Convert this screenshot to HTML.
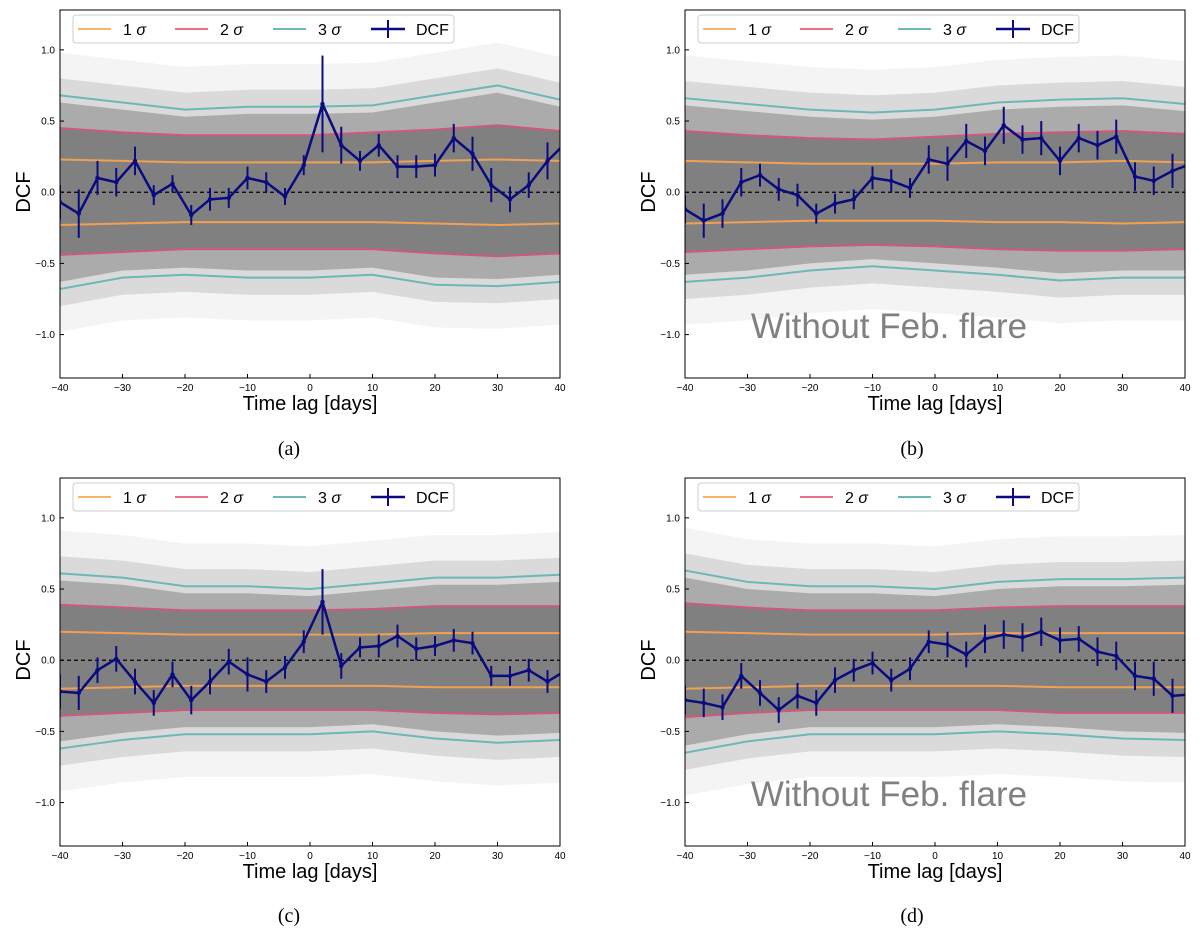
<!DOCTYPE html>
<html><head><meta charset="utf-8">
<style>
body{margin:0;background:#fff;width:1200px;height:935px;overflow:hidden;font-family:"Liberation Sans",sans-serif}
svg{position:absolute;left:0;top:0}
.cap{position:absolute;font-family:"Liberation Serif",serif;font-size:20px;transform:translateX(-50%)}
</style></head><body>
<svg id="fig" width="1200" height="935"></svg>
<div class="cap" style="left:289px;top:438px">(a)</div>
<div class="cap" style="left:912px;top:438px">(b)</div>
<div class="cap" style="left:289px;top:905px">(c)</div>
<div class="cap" style="left:912px;top:905px">(d)</div>
<script>
const lags=[-40,-37,-34,-31,-28,-25,-22,-19,-16,-13,-10,-7,-4,-1,2,5,8,11,14,17,20,23,26,29,32,35,38,41];
const dcfA=[-0.07,-0.15,0.10,0.07,0.22,-0.02,0.06,-0.16,-0.05,-0.04,0.10,0.07,-0.03,0.19,0.62,0.33,0.22,0.33,0.18,0.18,0.19,0.38,0.27,0.05,-0.05,0.05,0.22,0.35];
const errA=[0.12,0.17,0.12,0.10,0.10,0.07,0.06,0.07,0.08,0.07,0.08,0.07,0.06,0.07,0.34,0.13,0.07,0.08,0.08,0.08,0.08,0.10,0.12,0.12,0.09,0.09,0.13,0.13];
const dcfB=[-0.12,-0.20,-0.15,0.07,0.12,0.02,-0.02,-0.15,-0.08,-0.05,0.10,0.08,0.03,0.23,0.20,0.36,0.29,0.47,0.37,0.38,0.22,0.38,0.33,0.39,0.11,0.08,0.15,0.20];
const errB=[0.10,0.12,0.10,0.10,0.08,0.08,0.08,0.07,0.07,0.07,0.08,0.08,0.07,0.10,0.12,0.12,0.10,0.13,0.10,0.12,0.10,0.10,0.10,0.12,0.10,0.10,0.12,0.12];
const dcfC=[-0.22,-0.23,-0.07,0.01,-0.15,-0.30,-0.10,-0.28,-0.15,-0.01,-0.10,-0.15,-0.05,0.13,0.41,-0.04,0.09,0.10,0.17,0.08,0.10,0.14,0.12,-0.11,-0.11,-0.07,-0.15,-0.07];
const errC=[0.12,0.12,0.09,0.09,0.09,0.09,0.09,0.10,0.09,0.09,0.12,0.08,0.08,0.08,0.23,0.09,0.07,0.08,0.08,0.08,0.07,0.08,0.08,0.07,0.07,0.08,0.08,0.08];
const dcfD=[-0.28,-0.30,-0.33,-0.11,-0.23,-0.35,-0.25,-0.30,-0.14,-0.07,-0.02,-0.14,-0.06,0.13,0.11,0.04,0.15,0.18,0.16,0.20,0.14,0.15,0.06,0.03,-0.11,-0.13,-0.25,-0.24];
const errD=[0.10,0.10,0.09,0.09,0.09,0.09,0.09,0.09,0.09,0.08,0.08,0.08,0.08,0.08,0.09,0.09,0.10,0.10,0.10,0.10,0.09,0.09,0.10,0.10,0.10,0.12,0.12,0.12];
const sigLags=[-40,-30,-20,-10,0,10,20,30,40];
const s1A=[0.23,0.22,0.21,0.21,0.21,0.21,0.22,0.23,0.22], s2A=[0.45,0.42,0.40,0.40,0.40,0.42,0.44,0.47,0.43], s3A=[0.68,0.63,0.58,0.60,0.60,0.61,0.68,0.75,0.65];
const n1A=[-0.23,-0.22,-0.21,-0.21,-0.21,-0.21,-0.22,-0.23,-0.22], n2A=[-0.44,-0.42,-0.40,-0.40,-0.40,-0.40,-0.43,-0.45,-0.43], n3A=[-0.68,-0.60,-0.58,-0.60,-0.60,-0.58,-0.65,-0.66,-0.63];
const s1B=[0.22,0.21,0.20,0.20,0.20,0.21,0.21,0.22,0.21], s2B=[0.43,0.40,0.38,0.37,0.39,0.41,0.42,0.43,0.41], s3B=[0.66,0.62,0.58,0.56,0.58,0.63,0.65,0.66,0.62];
const n1B=[-0.22,-0.21,-0.20,-0.20,-0.20,-0.21,-0.21,-0.22,-0.21], n2B=[-0.42,-0.40,-0.38,-0.37,-0.38,-0.40,-0.41,-0.41,-0.40], n3B=[-0.63,-0.60,-0.55,-0.52,-0.55,-0.58,-0.62,-0.60,-0.60];
const s1C=[0.20,0.19,0.18,0.18,0.18,0.18,0.19,0.19,0.19], s2C=[0.39,0.37,0.35,0.35,0.35,0.36,0.38,0.38,0.38], s3C=[0.61,0.58,0.52,0.52,0.50,0.54,0.58,0.58,0.60];
const n1C=[-0.20,-0.19,-0.18,-0.18,-0.18,-0.18,-0.19,-0.19,-0.19], n2C=[-0.39,-0.37,-0.35,-0.35,-0.35,-0.35,-0.37,-0.38,-0.37], n3C=[-0.62,-0.56,-0.52,-0.52,-0.52,-0.50,-0.55,-0.58,-0.56];
const s1D=[0.20,0.19,0.18,0.18,0.18,0.19,0.19,0.19,0.19], s2D=[0.40,0.37,0.35,0.35,0.35,0.37,0.38,0.38,0.38], s3D=[0.63,0.55,0.52,0.52,0.50,0.55,0.57,0.57,0.58];
const n1D=[-0.20,-0.19,-0.18,-0.18,-0.18,-0.18,-0.19,-0.19,-0.19], n2D=[-0.40,-0.37,-0.35,-0.35,-0.35,-0.35,-0.37,-0.37,-0.37], n3D=[-0.65,-0.57,-0.52,-0.52,-0.52,-0.50,-0.52,-0.55,-0.56];
const xTicks=[-40,-30,-20,-10,0,10,20,30,40];
const yTicks=[-1.0,-0.5,0.0,0.5,1.0];
const yTickLabels=["\u22121.0","\u22120.5","0.0","0.5","1.0"];

const NS="http://www.w3.org/2000/svg";
const svg=document.getElementById('fig');
function mk(tag,attrs,parent,txt){const e=document.createElementNS(NS,tag);for(const k in attrs)e.setAttribute(k,attrs[k]);if(txt!==undefined)e.textContent=txt;(parent||svg).appendChild(e);return e;}

function panel(id,L,T,d,e,s1,s2,s3,n1,n2,n3,note){
  const W=500,H=368;
  const X=v=>L+(v+40)/80*W;
  const Y=v=>T+(1.28-v)/(1.28+1.305)*H;
  const g=mk('g',{});
  
  
  const cp=mk('clipPath',{id:'cp'+id},g);mk('rect',{x:L,y:T,width:W,height:H},cp);
  const gc=mk('g',{'clip-path':'url(#cp'+id+')'},g);
  const band=(up,lo,f,name)=>{let p='';sigLags.forEach((l,i)=>p+=(i?'L':'M')+X(l)+','+Y(up[i]));for(let i=sigLags.length-1;i>=0;i--)p+='L'+X(sigLags[i])+','+Y(lo[i]);const b=mk('path',{d:p+'Z',fill:f},gc);};
  band(s3.map(v=>v+0.3),n3.map(v=>v-0.3),'#f4f4f4','simulation-band-outer');
  band(s3.map(v=>v+0.12),n3.map(v=>v-0.12),'#dadada','simulation-band-mid');
  band(s3.map(v=>v-0.05),n3.map(v=>v+0.05),'#ababab','simulation-band-inner');
  band(s2.map(v=>v-0.0),n2.map(v=>v+0.0),'#808080','simulation-band-core');
  const line=(arr,col,name)=>{const p=mk('polyline',{points:sigLags.map((l,i)=>X(l)+','+Y(arr[i])).join(' '),fill:'none',stroke:col,'stroke-width':2},gc);};
  line(s1,'#f0a050','sigma1-upper');line(n1,'#f0a050','sigma1-lower');
  line(s2,'#d0587a','sigma2-upper');line(n2,'#d0587a','sigma2-lower');
  line(s3,'#6cb8b4','sigma3-upper');line(n3,'#6cb8b4','sigma3-lower');
  const z=mk('line',{x1:L,x2:L+W,y1:Y(0),y2:Y(0),stroke:'#000','stroke-dasharray':'4,3','stroke-width':1.2},gc);
  
  lags.forEach((l,i)=>{const eb=mk('line',{x1:X(l),x2:X(l),y1:Y(d[i]-e[i]),y2:Y(d[i]+e[i]),stroke:'#0b0b80','stroke-width':2},gc);});
  const dl=mk('polyline',{points:lags.map((l,i)=>X(l)+','+Y(d[i])).join(' '),fill:'none',stroke:'#0b0b80','stroke-width':2.5},gc);
  
  lags.forEach((l,i)=>{const c=mk('circle',{cx:X(l),cy:Y(d[i]),r:2.2,fill:'#0b0b80'},gc);});
  if(note){const t=mk('text',{x:L+204,y:T+328,'font-size':35,fill:'#808080','text-anchor':'middle'},g,note);}
  const fr=mk('rect',{x:L,y:T,width:W,height:H,fill:'none',stroke:'#000','stroke-width':1},g);
  
  xTicks.forEach(v=>{mk('line',{x1:X(v),x2:X(v),y1:T+H,y2:T+H-4,stroke:'#000'},g);const t=mk('text',{x:X(v),y:T+H+13,'font-size':10,'text-anchor':'middle'},g,v<0?'\u2212'+(-v):v);});
  yTicks.forEach((v,i)=>{mk('line',{x1:L,x2:L+4,y1:Y(v),y2:Y(v),stroke:'#000'},g);const t=mk('text',{x:L-5,y:Y(v)+3.5,'font-size':10,'text-anchor':'end'},g,yTickLabels[i]);});
  const xl=mk('text',{x:L+W/2,y:T+H+32,'font-size':20,'text-anchor':'middle'},g,'Time lag [days]');
  const yl=mk('text',{x:L-30,y:T+182,'font-size':20,'text-anchor':'middle',transform:'rotate(-90 '+(L-30)+' '+(T+182)+')'},g,'DCF');
  const lg=mk('g',{},g);
  mk('rect',{x:L+13,y:T+5,width:381,height:28,rx:3,fill:'#fff','fill-opacity':0.9,stroke:'#ccc'},lg);
  const ent=[['#f9b46a','1','\u03c3',L+18],['#e8708c','2','\u03c3',L+115],['#6cb8b4','3','\u03c3',L+213]];
  ent.forEach(en=>{const eg=mk('g',{},lg);mk('line',{x1:en[3],x2:en[3]+33,y1:T+19,y2:T+19,stroke:en[0],'stroke-width':2},eg);const t=mk('text',{x:en[3]+45,y:T+25,'font-size':16},eg,en[1]+' ');mk('tspan',{'font-style':'italic'},t,en[2]);});
  const dg=mk('g',{},lg);
  mk('line',{x1:L+311,x2:L+345,y1:T+19,y2:T+19,stroke:'#0b0b80','stroke-width':2.5},dg);
  mk('line',{x1:L+328,x2:L+328,y1:T+10,y2:T+28,stroke:'#0b0b80','stroke-width':2},dg);
  mk('text',{x:L+356,y:T+25,'font-size':16},dg,'DCF');
}
panel('a',60,10,dcfA,errA,s1A,s2A,s3A,n1A,n2A,n3A,null);
panel('b',685,10,dcfB,errB,s1B,s2B,s3B,n1B,n2B,n3B,'Without Feb. flare');
panel('c',60,478,dcfC,errC,s1C,s2C,s3C,n1C,n2C,n3C,null);
panel('d',685,478,dcfD,errD,s1D,s2D,s3D,n1D,n2D,n3D,'Without Feb. flare');
</script>
</body></html>
